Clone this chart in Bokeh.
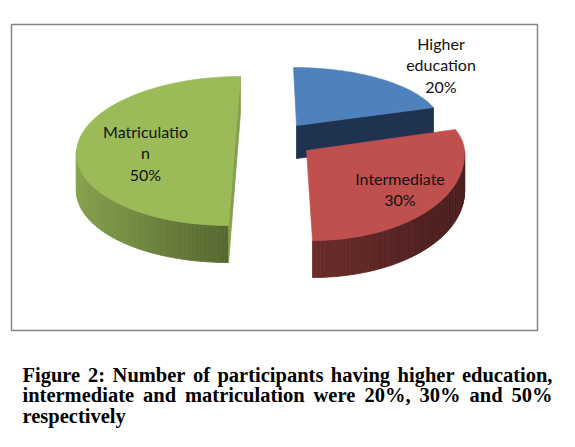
import numpy as np
from bokeh.plotting import figure
from bokeh.models import Range1d
from bokeh.embed import file_html
from bokeh.resources import INLINE
from bokeh.core.properties import value

# ---- data ----
categories = ["Higher education", "Intermediate", "Matriculation"]
values = [20, 30, 50]
label_lines = [["Higher", "education"], ["Intermediate"], ["Matriculatio", "n"]]
top_colors = ["#4F81BD", "#C0504D", "#9BBB59"]
caption_lines = [
    "Figure 2: Number of participants having higher education,",
    "intermediate and matriculation were 20%, 30% and 50%",
    "respectively",
]

# ---- layout (screen pixel space, y down) ----
geom = [
    dict(cx=296, cy=125, rx=145, ryb=58, ryf=58, sh=0.052, depth=33),
    dict(cx=306, cy=150, rx=158, ryb=68, ryf=90, sh=0.067, depth=37),
    dict(cx=234, cy=150, rx=158, ryb=74, ryf=75, sh=-0.08, depth=37),
]
label_pos = [(440.5, 43), (399.5, 178), (145, 131)]
line_gap = 21.3

W, H = 559, 431
p = figure(width=W, height=H, x_range=Range1d(0, W), y_range=Range1d(H, 0),
           output_backend="svg", toolbar_location=None, min_border=0)
p.axis.visible = False
p.grid.visible = False
p.outline_line_color = None
p.background_fill_color = "white"


def pt(g, a_deg, drop=0.0):
    a = np.radians(np.asarray(a_deg, dtype=float))
    c = np.cos(a)
    ry = np.where(c > 0, g["ryb"], g["ryf"])
    dy = -ry * c
    return g["cx"] + g["rx"] * np.sin(a) + g["sh"] * dy, g["cy"] + dy + drop


def shade(hexcol, f):
    h = hexcol.lstrip("#")
    r, gg, b = (int(h[i:i + 2], 16) for i in (0, 2, 4))
    return "#%02x%02x%02x" % tuple(int(max(0, min(255, v * f))) for v in (r, gg, b))


def wall_factor(a):
    return float(np.interp(a, [90, 135, 180, 225, 270], [0.38, 0.42, 0.56, 0.78, 0.9]))


# frame
p.quad(left=11, right=537, top=24, bottom=330, fill_color=None,
       line_color="#868686", line_width=1.5)

total = float(sum(values))
starts = np.concatenate([[0], np.cumsum(values)[:-1]]) / total * 360
ends = np.cumsum(values) / total * 360

order = [2, 0, 1]  # draw back-to-front: green, blue, red
for i in order:
    g = geom[i]
    a0, a1 = starts[i], ends[i]
    col = top_colors[i]
    # outer wall (visible between 90 and 270 deg)
    w0, w1 = max(a0, 90), min(a1, 270)
    if w1 > w0:
        n = 60
        angs = np.linspace(w0, w1, n + 1)
        xs, ys, cs = [], [], []
        for k in range(n):
            x0, y0 = pt(g, angs[k])
            x1, y1 = pt(g, angs[k + 1])
            x2, y2 = pt(g, angs[k + 1], g["depth"])
            x3, y3 = pt(g, angs[k], g["depth"])
            xs.append([x0, x1, x2, x3])
            ys.append([y0, y1, y2, y3])
            cs.append(shade(col, wall_factor(0.5 * (angs[k] + angs[k + 1]))))
        p.patches(xs, ys, fill_color=cs, line_color=cs, line_width=0.8)
    # cut faces
    if i == 0:  # blue: face along its end edge, facing front-right
        ex, ey = pt(g, a1)
        ex2, ey2 = pt(g, a1, g["depth"])
        p.patch([g["cx"], ex, ex2, g["cx"]], [g["cy"], ey, ey2, g["cy"] + g["depth"]],
                fill_color="#1F3350", line_color="#1F3350", line_width=0.8)
    if i == 2:  # green: face along the diameter, facing right
        sx, sy = pt(g, a0)
        ex, ey = pt(g, a1)
        sx2, sy2 = pt(g, a0, g["depth"])
        ex2, ey2 = pt(g, a1, g["depth"])
        p.patch([ex, sx, sx2, ex2], [ey, sy, sy2, ey2],
                fill_color=shade(col, 0.86), line_color=shade(col, 0.86), line_width=0.8)
    # top face
    arc = np.linspace(a0, a1, 120)
    ax, ay = pt(g, arc)
    px = np.concatenate([[g["cx"]], ax])
    py = np.concatenate([[g["cy"]], ay])
    p.patch(px, py, fill_color=col, line_color=col, line_width=0.6)

# data labels
lx, ly, lt = [], [], []
for i in range(len(values)):
    lines = label_lines[i] + ["%d%%" % values[i]]
    x0, y0 = label_pos[i]
    for j, t in enumerate(lines):
        lx.append(x0)
        ly.append(y0 + j * line_gap)
        lt.append(t)
p.text(lx, ly, text=lt, text_font=value("Lato"), text_font_size="16px",
       text_align="center", text_baseline="middle", text_color="#111111")

# caption, justified between x=22 and x=552 (approximate Times-Bold advance widths)
adv = dict(a=500, b=556, c=444, d=556, e=444, f=333, g=500, h=556, i=278, j=333,
           k=556, l=278, m=833, n=556, o=500, p=556, q=556, r=444, s=389, t=333,
           u=556, v=500, w=722, x=500, y=500, z=444, F=611, N=722)
adv.update({"%": 1000, ":": 333, ",": 250, " ": 250})
for dch in "0123456789":
    adv[dch] = 500
fs = 20.5
cap_left, cap_right = 22, 552
cap_mid = [374, 394.5, 415]
wx, wy, wt = [], [], []
for li, line in enumerate(caption_lines):
    words = line.split(" ")
    widths = [sum(adv.get(ch, 500) for ch in wd) * fs / 1000.0 for wd in words]
    if li < len(caption_lines) - 1 and len(words) > 1:
        gap = (cap_right - cap_left - sum(widths)) / (len(words) - 1)
    else:
        gap = adv[" "] * fs / 1000.0
    x = cap_left
    for wd, wdt in zip(words, widths):
        wx.append(x)
        wy.append(cap_mid[li])
        wt.append(wd)
        x += wdt + gap
p.text(wx, wy, text=wt, text_font=value("Liberation Serif"), text_font_style="bold",
       text_font_size="%gpx" % fs, text_align="left", text_baseline="middle",
       text_color="#000000")

open("out.html", "w").write(file_html(p, INLINE))
